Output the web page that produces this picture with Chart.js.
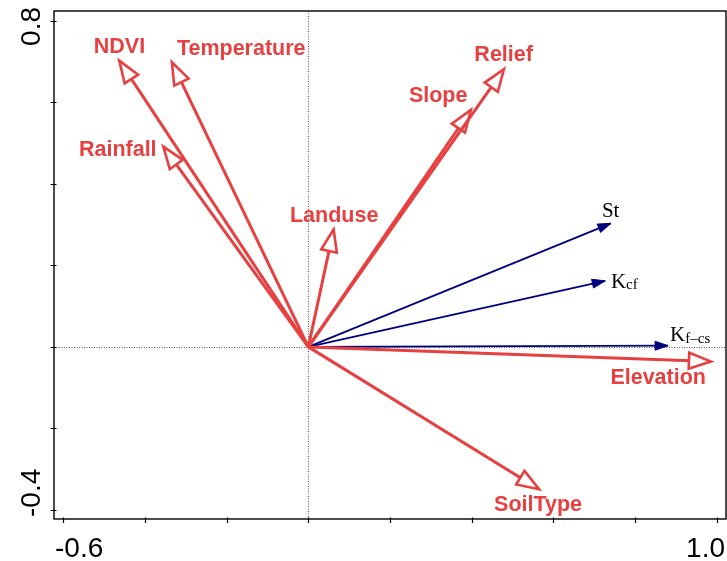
<!DOCTYPE html>
<html><head><meta charset="utf-8">
<script src="https://cdn.jsdelivr.net/npm/chart.js@4.4.1/dist/chart.umd.min.js"></script>
<style>html,body{margin:0;padding:0;background:#fff;} #wrap{width:727px;height:561px;}</style>
</head><body><div id="wrap"><canvas id="c" width="727" height="561"></canvas></div>
<script>
// ---- data ----
const envNames = ['NDVI','Temperature','Rainfall','Landuse','Slope','Relief','Elevation','SoilType'];
const envX = [-0.463, -0.334, -0.355, 0.062, 0.398, 0.479, 0.986, 0.565];
const envY = [0.702, 0.698, 0.491, 0.288, 0.581, 0.681, -0.036, -0.349];
const respMain = ['St', 'K', 'K'];
const respSub = ['', 'cf', 'f\u2013cs'];
const respX = [0.741, 0.727, 0.881];
const respY = [0.303, 0.162, 0.003];
const xTicks = [-0.6, -0.4, -0.2, 0, 0.2, 0.4, 0.6, 0.8, 1.0];
const yTicks = [-0.4, -0.2, 0, 0.2, 0.4, 0.6, 0.8];
const xTickLabels = ['-0.6', '1.0'];
const yTickLabels = ['-0.4', '0.8'];

// ---- style (pixel offsets of labels from arrow tips) ----
const RED = 'rgb(231,64,64)';
const BLUE = '#00007f';
const envLabelDX = [0.2, 69.3, -45.6, 0.5, -32.7, -0.3, -52.8, -1];
const envLabelDY = [-7.4, -7.3, 9.3, -7, -7.7, -8.3, 22.6, 21.7];
const respLabelDX = [-9, 5.7, 2];
const respLabelDY = [-6.6, 7.3, -4.7];
const respSubDY = [0, 1, 1.7];

// drawing sequence first->last: blue, then red (Slope before Relief)
const drawSeq = [];
for (let i = 0; i < respX.length; i++) drawSeq.push({kind:'resp', i});
const envSeq = [0,1,2,3,4,5,6,7];
envSeq.forEach(i => drawSeq.push({kind:'env', i}));
const datasets = drawSeq.slice().reverse().map(d => {
  const isEnv = d.kind === 'env';
  return {
    kind: d.kind, idx: d.i,
    data: [{x:0, y:0}, {x: isEnv ? envX[d.i] : respX[d.i], y: isEnv ? envY[d.i] : respY[d.i]}],
    showLine: true,
    borderColor: isEnv ? RED : BLUE,
    borderWidth: isEnv ? 3 : 1.8,
    borderCapStyle: 'butt',
    pointRadius: 0,
    pointHoverRadius: 0,
    fill: false
  };
});

function head(ctx, x0, y0, x1, y1, len, hw, fillCol, strokeCol, lw) {
  const dx = x1 - x0, dy = y1 - y0, L = Math.hypot(dx, dy);
  const ux = dx / L, uy = dy / L;
  const bx = x1 - ux * len, by = y1 - uy * len;
  ctx.save();
  ctx.beginPath();
  ctx.moveTo(x1, y1);
  ctx.lineTo(bx - uy * hw, by + ux * hw);
  ctx.lineTo(bx + uy * hw, by - ux * hw);
  ctx.closePath();
  ctx.fillStyle = fillCol;
  ctx.fill();
  if (strokeCol) {
    ctx.strokeStyle = strokeCol;
    ctx.lineWidth = lw;
    ctx.lineJoin = 'miter';
    ctx.stroke();
  }
  ctx.restore();
}

const biplot = {
  id: 'biplot',
  beforeDatasetsDraw(chart) {
    const {ctx, chartArea: a, scales: {x, y}} = chart;
    ctx.save();
    ctx.strokeStyle = '#555';
    ctx.lineWidth = 1;
    ctx.setLineDash([1, 1.5]);
    const px = Math.round(x.getPixelForValue(0)) + 0.5;
    const py = Math.round(y.getPixelForValue(0)) + 0.5;
    ctx.beginPath(); ctx.moveTo(px, a.top); ctx.lineTo(px, a.bottom); ctx.stroke();
    ctx.beginPath(); ctx.moveTo(a.left, py); ctx.lineTo(a.right, py); ctx.stroke();
    ctx.restore();
  },
  afterDatasetDraw(chart, args) {
    const ds = chart.data.datasets[args.index];
    const {ctx, scales: {x, y}} = chart;
    const p0 = ds.data[0], p1 = ds.data[1];
    const x0 = x.getPixelForValue(p0.x), y0 = y.getPixelForValue(p0.y);
    const x1 = x.getPixelForValue(p1.x), y1 = y.getPixelForValue(p1.y);
    if (ds.kind === 'env') head(ctx, x0, y0, x1, y1, 22, 8, '#fff', RED, 2.6);
    else head(ctx, x0, y0, x1, y1, 13, 4.5, BLUE, BLUE, 1);
  },
  afterDatasetsDraw(chart) {
    const {ctx, scales: {x, y}} = chart;
    ctx.save();
    ctx.textBaseline = 'alphabetic';
    ctx.fillStyle = RED;
    ctx.font = 'bold 21.5px "Liberation Sans", Arial, sans-serif';
    ctx.textAlign = 'center';
    envNames.forEach((n, i) => {
      const tx = x.getPixelForValue(envX[i]), ty = y.getPixelForValue(envY[i]);
      ctx.fillText(n, tx + envLabelDX[i], ty + envLabelDY[i]);
    });
    ctx.fillStyle = '#000';
    ctx.textAlign = 'left';
    respMain.forEach((m, i) => {
      const tx = x.getPixelForValue(respX[i]) + respLabelDX[i];
      const ty = y.getPixelForValue(respY[i]) + respLabelDY[i];
      ctx.font = '21px "Liberation Serif", "Times New Roman", serif';
      ctx.fillText(m, tx, ty);
      const w = ctx.measureText(m).width;
      if (respSub[i]) {
        ctx.font = '15px "Liberation Serif", "Times New Roman", serif';
        ctx.fillText(respSub[i], tx + w, ty + respSubDY[i]);
      }
    });
    ctx.restore();
  },
  afterDraw(chart) {
    const {ctx, chartArea: a, scales: {x, y}} = chart;
    ctx.save();
    ctx.strokeStyle = '#000';
    ctx.lineWidth = 1.4;
    ctx.strokeRect(a.left, a.top, a.right - a.left, a.bottom - a.top);
    ctx.lineWidth = 1.2;
    ctx.beginPath();
    xTicks.forEach(v => {
      const px = Math.round(x.getPixelForValue(v)) + 0.5;
      ctx.moveTo(px, a.bottom - 1.5); ctx.lineTo(px, a.bottom + 4);
    });
    yTicks.forEach(v => {
      const py = Math.round(y.getPixelForValue(v)) + 0.5;
      ctx.moveTo(a.left - 3.5, py); ctx.lineTo(a.left + 2.5, py);
    });
    ctx.stroke();
    ctx.fillStyle = '#000';
    ctx.font = '28px "Liberation Sans", Arial, sans-serif';
    ctx.textBaseline = 'alphabetic';
    ctx.textAlign = 'left';
    ctx.fillText(xTickLabels[0], a.left + 1, 557);
    ctx.textAlign = 'right';
    ctx.fillText(xTickLabels[1], a.right - 1, 557);
    // rotated y labels
    ctx.save();
    ctx.translate(40, a.bottom - 2);
    ctx.rotate(-Math.PI / 2);
    ctx.textAlign = 'left';
    ctx.fillText(yTickLabels[0], 0, 0);
    ctx.restore();
    ctx.save();
    ctx.translate(40, a.top - 4);
    ctx.rotate(-Math.PI / 2);
    ctx.textAlign = 'right';
    ctx.fillText(yTickLabels[1], 0, 0);
    ctx.restore();
    ctx.restore();
  }
};

new Chart(document.getElementById('c'), {
  type: 'scatter',
  data: { datasets },
  options: {
    responsive: false,
    animation: false,
    events: [],
    layout: { padding: { top: 11, right: 1, left: 0, bottom: 0 } },
    plugins: { legend: { display: false }, tooltip: { enabled: false } },
    scales: {
      x: {
        type: 'linear', min: -0.6228, max: 1.0228,
        grid: { display: false }, border: { display: false },
        ticks: { display: false },
        afterBuildTicks: s => { s.ticks = xTicks.map(v => ({ value: v })); },
        afterFit: s => { s.height = 42; }
      },
      y: {
        type: 'linear', min: -0.4221, max: 0.8238,
        grid: { display: false }, border: { display: false },
        ticks: { display: false },
        afterBuildTicks: s => { s.ticks = yTicks.map(v => ({ value: v })); },
        afterFit: s => { s.width = 54; }
      }
    }
  },
  plugins: [biplot]
});
</script>
</body></html>
